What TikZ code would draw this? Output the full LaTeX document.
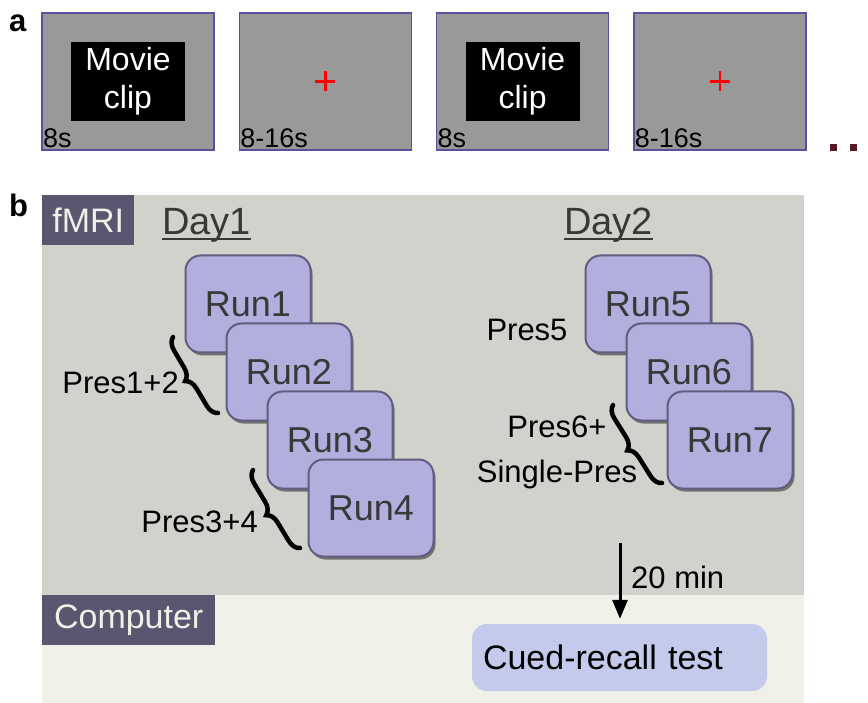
\documentclass[tikz,border=0pt]{standalone}
\usepackage{fontspec}
\setmainfont{Liberation Sans}
\usetikzlibrary{positioning,shadows,decorations.pathreplacing,arrows.meta}

\definecolor{screengray}{HTML}{999999}
\definecolor{screenedge}{HTML}{5B4F9E}
\definecolor{scannerbg}{HTML}{D2D2CC}
\definecolor{deskbg}{HTML}{F0F0E8}
\definecolor{tagfill}{HTML}{5A566F}
\definecolor{runfill}{HTML}{B2AEDE}
\definecolor{runedge}{HTML}{615D7E}
\definecolor{testfill}{HTML}{C3CAEB}
\definecolor{dotred}{HTML}{5A1A24}

\tikzset{
  screen/.style={draw=screenedge,line width=1.3pt,fill=screengray,minimum width=172pt,minimum height=137pt,inner sep=0},
  moviebox/.style={fill=black,text=white,minimum width=114pt,minimum height=79pt,align=center,font=\fontsize{32}{38}\selectfont},
  timing/.style={anchor=base west,inner sep=0,font=\fontsize{27}{30}\selectfont},
  run/.style={draw=runedge,line width=2pt,fill=runfill,rounded corners=15pt,minimum width=125pt,minimum height=97pt,text=black!78,font=\fontsize{36}{40}\selectfont,drop shadow={shadow xshift=2pt,shadow yshift=-3pt,fill=black,opacity=.45}},
  tag/.style={fill=tagfill,text=deskbg,anchor=north west,inner sep=0,font=\fontsize{34}{38}\selectfont},
  pres/.style={font=\fontsize{31}{45}\selectfont,inner sep=0,align=center},
  curly/.style={decorate,decoration={brace,amplitude=12pt},line width=4.5pt,line cap=round},
  daylabel/.style={anchor=base west,inner sep=0,text=black!78,font=\fontsize{38}{40}\selectfont},
  panel/.style={anchor=base west,inner sep=0,font=\bfseries\fontsize{31}{32}\selectfont}
}

\begin{document}
\begin{tikzpicture}[x=1pt,y=-1pt]
\useasboundingbox (0,0) rectangle (868,703);

% a: trial sequence
\node[panel] (labela) at (9,32) {a};
\node[screen] (scr1) at (128,81.5) {};
\node[screen,right=24pt of scr1] (scr2) {};
\node[screen,right=24pt of scr2] (scr3) {};
\node[screen,right=24pt of scr3] (scr4) {};
\node[moviebox] at (scr1) {Movie\\clip};
\node[moviebox] at (scr3) {Movie\\clip};
\foreach \s in {scr2,scr4}
  \draw[red,line width=2.5pt] ([xshift=-10pt]\s.center) -- ([xshift=10pt]\s.center)
    ([yshift=-10pt]\s.center) -- ([yshift=10pt]\s.center);
\node[timing] at ([xshift=1.5pt,yshift=3.5pt]scr1.south west) {8s};
\node[timing] at ([xshift=1.5pt,yshift=3.5pt]scr2.south west) {8-16s};
\node[timing] at ([xshift=1.5pt,yshift=3.5pt]scr3.south west) {8s};
\node[timing] at ([xshift=1.5pt,yshift=3.5pt]scr4.south west) {8-16s};
\foreach \dx in {0,20,40}
  \fill[dotred] ([xshift=\dx pt]scr4.south east) ++(23,-7) rectangle ++(7,7);

% b: sessions
\node[panel] (labelb) at (9,217) {b};
\fill[scannerbg] (42,195) rectangle (804,595);
\fill[deskbg] (42,595) rectangle (804,703);
\node[tag,minimum width=92pt,minimum height=50pt] (fmri) at (42,195) {fMRI};
\node[tag,minimum width=173pt,minimum height=50pt] (computer) at (42,595) {Computer};

\node[daylabel] (day1) at (162,235) {Day1};
\node[daylabel] (day2) at (564,235) {Day2};
\foreach \d in {day1,day2}
  \draw[black!78,line width=1.6pt] ([yshift=-4pt]\d.base west) -- ([yshift=-4pt]\d.base east);

\foreach \n in {1,2,3,4}
  \node[run] (run\n) at ({248+41*(\n-1)},{304+68*(\n-1)}) {Run\n};
\foreach \n in {5,6,7}
  \node[run] (run\n) at ({648+41*(\n-5)},{304+68*(\n-5)}) {Run\n};

\coordinate (b1top) at (173,337); \coordinate (b1bot) at (218,413);
\coordinate (b2top) at (253,470); \coordinate (b2bot) at (300,548);
\coordinate (b3top) at (613,405); \coordinate (b3bot) at (662,483);
\draw[curly] (b1bot) -- (b1top);
\draw[curly] (b2bot) -- (b2top);
\draw[curly] (b3bot) -- (b3top);
\node[pres,anchor=east] (p12) at (179,383) {Pres1+2};
\node[pres,anchor=east] (p34) at (258,522) {Pres3+4};
\node[pres] (p5) at (527,330) {Pres5};
\node[pres] (p6) at (557,452) {Pres6+\\Single-Pres};

\node[fill=testfill,rounded corners=15pt,minimum height=67pt,text width=273pt,inner xsep=11pt,align=left,font=\fontsize{34}{40}\selectfont] (test) at (619.5,657.5) {Cued-recall test};
\coordinate (gap) at (620,543);
\draw[-{Triangle[length=19pt,width=15pt]},line width=3pt,shorten >=5pt] (gap) -- (test.north -| gap);
\node[anchor=west,inner sep=0,font=\fontsize{31}{36}\selectfont] (delay) at (631,577) {20 min};
\end{tikzpicture}
\end{document}
